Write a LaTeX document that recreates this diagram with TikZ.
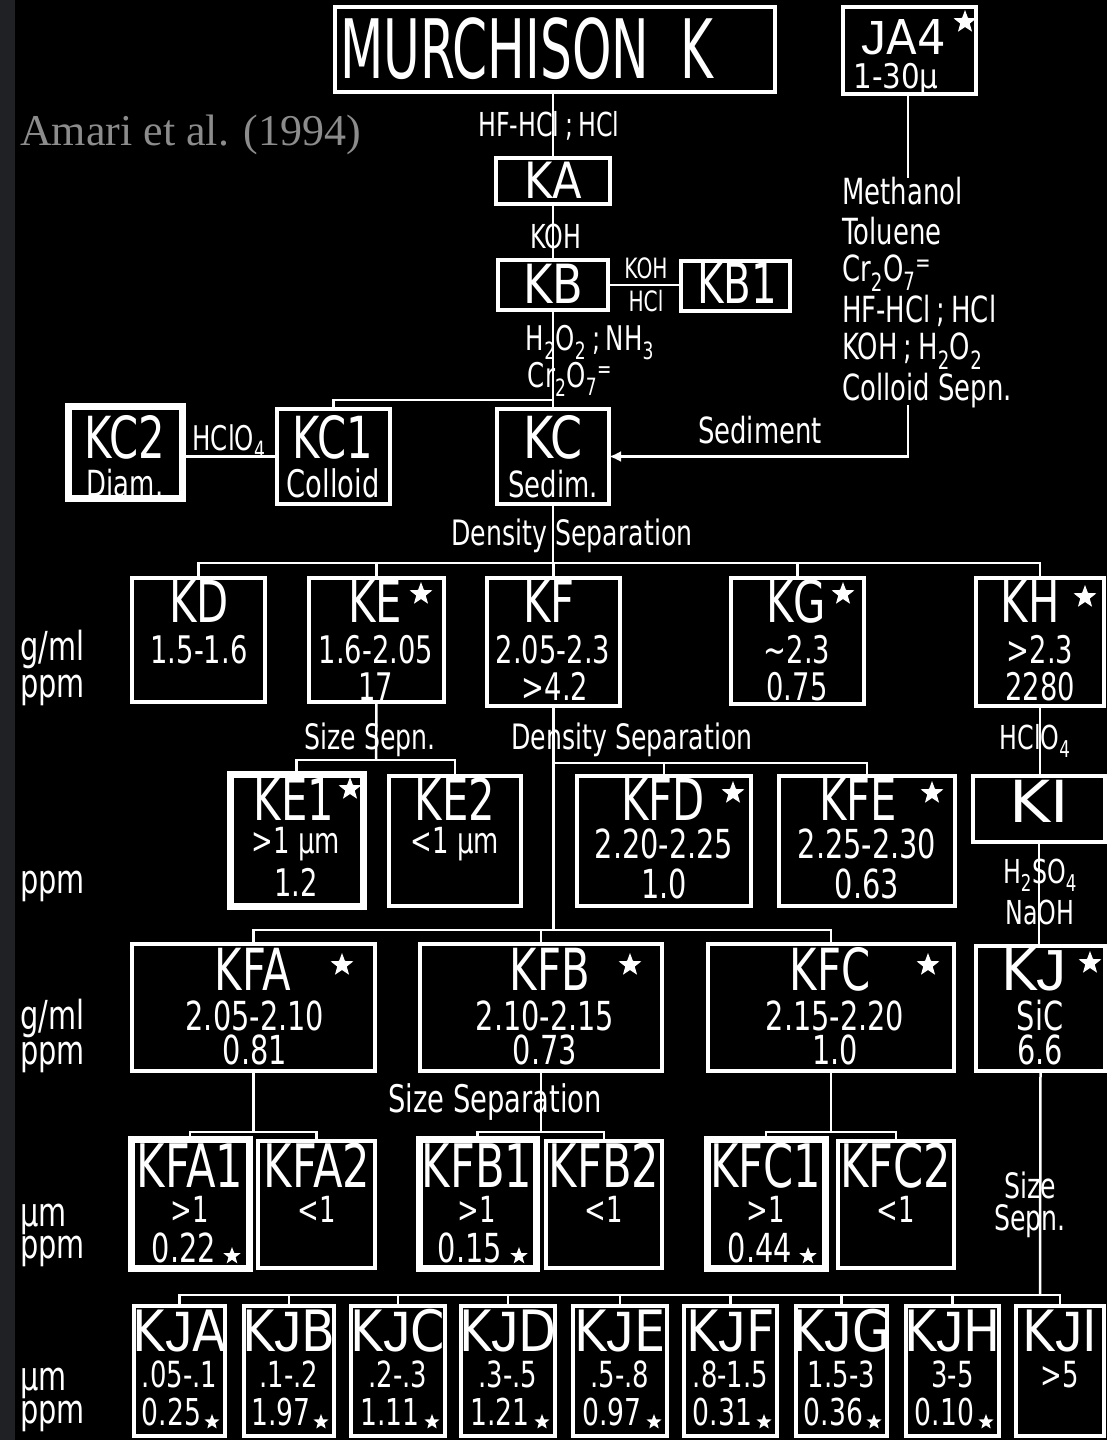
\documentclass[tikz,border=0pt]{standalone}
\usepackage{fontspec}
\usepackage{graphicx}
\setmainfont{DejaVu Sans}[FakeStretch=0.72]
\newfontfamily\amarifont{Liberation Serif}
\newfontfamily\jfont{Liberation Sans}[FakeStretch=0.8]
\usetikzlibrary{shapes.geometric,arrows.meta,calc}
\definecolor{stripgray}{HTML}{202124}
\definecolor{amarigray}{HTML}{8C8C8C}
\newcommand\fs[1]{\fontsize{#1}{#1}\selectfont}
\newcommand\JJ{{\jfont J}}
\newcommand\mkbox[6][]{\pgfmathsetmacro\bw{#5-#3}\pgfmathsetmacro\bh{#6-#4}%
  \node[bx,minimum width=\bw pt,minimum height=\bh pt,#1] (#2) at ({(#3+#5)/2},{(#4+#6)/2}) {};}
\newcommand\sbs[1]{\textsubscript{#1}}
\begin{document}
\begin{tikzpicture}[x=1pt,y=-1pt,
  bx/.style={draw=white,line width=4pt,rectangle,inner sep=0pt,outer sep=0pt},
  tb/.style={line width=7pt},
  ln/.style={draw=white,line width=2.5pt},
  tx/.style={text=white,inner sep=0pt,anchor=base},
  txl/.style={text=white,inner sep=0pt,anchor=base west},
  wstar/.style={star,star points=5,star point ratio=2.4,fill=white,draw=none,inner sep=0pt,minimum size=#1},
  wstar/.default=20pt]
\useasboundingbox (0,0) rectangle (1107,1440);
\fill[black] (0,0) rectangle (1107,1440);
\fill[stripgray] (0,0) rectangle (15,1440);

% ---------------- boxes ----------------
\mkbox{MK}{335}{7}{775}{92}
\mkbox{JA4}{843}{7}{976}{94}
\mkbox{KA}{496}{158}{610}{204}
\mkbox{KB}{498}{260}{608}{310}
\mkbox{KB1}{681}{261}{790}{311}
\mkbox[tb]{KC2}{68}{406}{182}{498}
\mkbox{KC1}{277}{409}{390}{504}
\mkbox{KC}{497}{409}{609}{504}
\mkbox{KD}{132}{578}{265}{702}
\mkbox{KE}{309}{578}{444}{702}
\mkbox{KF}{487}{578}{620}{706}
\mkbox{KG}{731}{578}{864}{704}
\mkbox{KH}{976}{578}{1104}{706}
\mkbox[tb]{KE1}{230}{774}{363}{906}
\mkbox{KE2}{389}{776}{521}{906}
\mkbox{KFD}{577}{776}{751}{906}
\mkbox{KFE}{779}{776}{955}{906}
\mkbox{KI}{973}{776}{1105}{842}
\mkbox{KFA}{132}{944}{375}{1071}
\mkbox{KFB}{420}{944}{662}{1071}
\mkbox{KFC}{708}{944}{954}{1071}
\mkbox{KJ}{976}{946}{1105}{1071}
\mkbox[tb]{KFA1}{131}{1139}{249}{1268}
\mkbox{KFA2}{258}{1141}{375}{1268}
\mkbox[tb]{KFB1}{419}{1139}{536}{1268}
\mkbox{KFB2}{546}{1141}{662}{1268}
\mkbox[tb]{KFC1}{707}{1139}{825}{1268}
\mkbox{KFC2}{838}{1141}{954}{1268}
\mkbox{KJA}{134}{1306}{225}{1436}
\mkbox{KJB}{244}{1306}{334}{1436}
\mkbox{KJC}{351}{1306}{445}{1436}
\mkbox{KJD}{461}{1306}{555}{1436}
\mkbox{KJE}{573}{1306}{667}{1436}
\mkbox{KJF}{684}{1306}{777}{1436}
\mkbox{KJG}{796}{1306}{887}{1436}
\mkbox{KJH}{906}{1306}{999}{1436}
\mkbox{KJI}{1016}{1306}{1104}{1436}

% ---------------- connectors ----------------
\coordinate (j1) at (553,400);
\coordinate (jaend) at (908,178);
\coordinate (sedtop) at (908,405);
\coordinate (d1) at (553,563);
\coordinate (e1) at (376,760);
\coordinate (f1) at (553.5,763);
\coordinate (f2) at (553.5,930);
\coordinate (ga) at (253.5,1132);
\coordinate (gb) at (541,1132);
\coordinate (gc) at (831,1132);
\coordinate (h1) at (1040,1295);

\draw[ln] (KA.north) -- (KA.north |- MK.south);
\draw[ln] (KA.south) -- (KB.north);
\draw[ln] (KB.east) -- (KB.east -| KB1.west);
\draw[ln] (KB.south) -- (KC.north);
\draw[ln] (KC1.north) |- (j1);
\draw[ln] (JA4.south -| jaend) -- (jaend);
\draw[ln,-{Latex[length=12pt,width=11pt]}] (sedtop) |- (KC.east);
\draw[ln] (KC1.west) -- (KC1.west -| KC2.east);
\draw[ln] (KC.south) -- (d1);
\draw[ln] (KD.north) |- (KH.north |- d1) -- (KH.north);
\draw[ln] (KE.north) -- (KE.north |- d1);
\draw[ln] (KF.north) -- (KF.north |- d1);
\draw[ln] (KG.north) -- (KG.north |- d1);
\draw[ln] (KE.south) -- (e1);
\draw[ln] (KE1.north) |- (KE2.north |- e1) -- (KE2.north);
\draw[ln] (KF.south) -- (f2);
\draw[ln] (f1) -| (KFE.north);
\draw[ln] (KFD.north) -- (KFD.north |- f1);
\draw[ln] (KFA.north) |- (KFC.north |- f2) -- (KFC.north);
\draw[ln] (KFB.north) -- (KFB.north |- f2);
\draw[ln] (KH.south) -- (KH.south |- KI.north);
\draw[ln] (KI.south) -- (KI.south |- KJ.north);
\draw[ln] (KFA.south) -- (ga);
\draw[ln] (KFA1.north) |- (KFA2.north |- ga) -- (KFA2.north);
\draw[ln] (KFB.south) -- (gb);
\draw[ln] (KFB1.north) |- (KFB2.north |- gb) -- (KFB2.north);
\draw[ln] (KFC.south) -- (gc);
\draw[ln] (KFC1.north) |- (KFC2.north |- gc) -- (KFC2.north);
\draw[ln] (KJ.south) -- (h1);
\draw[ln] (KJA.north) |- (KJI.north |- h1) -- (KJI.north);
\foreach \b in {KJB,KJC,KJD,KJE,KJF,KJG,KJH}{\draw[ln] (\b.north) -- (\b.north |- h1);}

% ---------------- texts ----------------
\node[anchor=base west,inner sep=0pt,text=amarigray,font=\amarifont\fs{44}] (amari) at (20,145) {Amari et al. (1994)};
\node[tx,font=\fs{82}] (t-MK) at (527,78) {\scalebox{0.85}[1]{MURCHISON\ \ K}};
\node[tx,font=\fs{48}] (t-JA4) at (904,54) {\scalebox{1.3}[1]{\JJ A4}};
\node[tx,font=\fs{34}] (t-JA4b) at (896,88) {\scalebox{1.2}[1]{1-30μ}};
\node[tx,font=\fs{33}] (l-hf) at (549,136) {HF-HCl\,;\,HCl};
\node[tx,font=\fs{50}] (t-KA) at (553,198) {\scalebox{1.2}[1]{KA}};
\node[tx,font=\fs{33}] (l-koh) at (556,248) {KOH};
\node[tx,font=\fs{54}] (t-KB) at (553,303) {\scalebox{1.15}[1]{KB}};
\node[tx,font=\fs{56}] (t-KB1) at (737,303) {KB1};
\node[tx,font=\fs{28}] (l-koh2) at (646,278) {KOH};
\node[tx,font=\fs{28}] (l-hcl2) at (646,311) {HCl};
\node[tx,font=\fs{34}] (l-h2o2) at (590,350) {H\sbs{2}O\sbs{2}\,;\,NH\sbs{3}};
\node[tx,font=\fs{34}] (l-cr) at (570,387) {Cr\sbs{2}O\sbs{7}\textsuperscript{=}};
\node[txl,font=\fs{36}] (r1) at (842,204) {Methanol};
\node[txl,font=\fs{36}] (r2) at (842,244) {Toluene};
\node[txl,font=\fs{36}] (r3) at (842,281) {Cr\sbs{2}O\sbs{7}\textsuperscript{=}};
\node[txl,font=\fs{36}] (r4) at (842,322) {HF-HCl\,;\,HCl};
\node[txl,font=\fs{36}] (r5) at (842,359) {KOH\,;\,H\sbs{2}O\sbs{2}};
\node[txl,font=\fs{36}] (r6) at (842,400) {Colloid Sepn.};

\node[tx,font=\fs{58}] (t-KC2) at (125,458) {KC2};
\node[tx,font=\fs{36}] (t-KC2b) at (125,496) {Diam.};
\node[tx,font=\fs{34}] (l-hclo4) at (229,450) {HClO\sbs{4}};
\node[tx,font=\fs{58}] (t-KC1) at (333,458) {KC1};
\node[tx,font=\fs{38}] (t-KC1b) at (333,497) {Colloid};
\node[tx,font=\fs{58}] (t-KC) at (553,458) {\scalebox{1.1}[1]{KC}};
\node[tx,font=\fs{36}] (t-KCb) at (553,497) {Sedim.};
\node[tx,font=\fs{36}] (l-sed) at (760,443) {Sediment};
\node[tx,font=\fs{35}] (l-dens1) at (572,545) {Density Separation};

\node[txl,font=\fs{40}] (u1) at (20,660) {g/ml};
\node[txl,font=\fs{40}] (u2) at (20,697) {ppm};
\node[tx,font=\fs{58}] (t-KD) at (199,622) {KD};
\node[tx,font=\fs{38}] (t-KDb) at (199,663) {1.5-1.6};
\node[tx,font=\fs{58}] (t-KE) at (375,622) {KE};
\node[tx,font=\fs{38}] (t-KEb) at (376,663) {1.6-2.05};
\node[tx,font=\fs{38}] (t-KEc) at (376,700) {17};
\node[tx,font=\fs{58}] (t-KF) at (549,622) {KF};
\node[tx,font=\fs{38}] (t-KFb) at (553,663) {2.05-2.3};
\node[tx,font=\fs{38}] (t-KFc) at (555,700) {>4.2};
\node[tx,font=\fs{58}] (t-KG) at (796,622) {KG};
\node[tx,font=\fs{38}] (t-KGb) at (797,663) {\textasciitilde2.3};
\node[tx,font=\fs{38}] (t-KGc) at (797,700) {0.75};
\node[tx,font=\fs{58}] (t-KH) at (1030,622) {KH};
\node[tx,font=\fs{38}] (t-KHb) at (1040,663) {>2.3};
\node[tx,font=\fs{38}] (t-KHc) at (1040,700) {2280};

\node[tx,font=\fs{35}] (l-size1) at (370,749) {Size Sepn.};
\node[tx,font=\fs{35}] (l-dens2) at (632,749) {Density Separation};
\node[tx,font=\fs{33}] (l-hclo4b) at (1035,749) {HClO\sbs{4}};
\node[txl,font=\fs{40}] (u3) at (20,893) {ppm};
\node[tx,font=\fs{58}] (t-KE1) at (294,820) {KE1};
\node[tx,font=\fs{36}] (t-KE1b) at (296,853) {>1 μm};
\node[tx,font=\fs{38}] (t-KE1c) at (296,896) {1.2};
\node[tx,font=\fs{58}] (t-KE2) at (455,820) {KE2};
\node[tx,font=\fs{36}] (t-KE2b) at (455,853) {<1 μm};
\node[tx,font=\fs{58}] (t-KFD) at (663,820) {KFD};
\node[tx,font=\fs{40}] (t-KFDb) at (664,858) {2.20-2.25};
\node[tx,font=\fs{40}] (t-KFDc) at (664,898) {1.0};
\node[tx,font=\fs{58}] (t-KFE) at (858,820) {KFE};
\node[tx,font=\fs{40}] (t-KFEb) at (867,858) {2.25-2.30};
\node[tx,font=\fs{40}] (t-KFEc) at (867,898) {0.63};
\node[tx,font=\fs{58}] (t-KI) at (1039,822) {\scalebox{1.5}[1]{KI}};
\node[tx,font=\fs{33}] (l-h2so4) at (1040,883) {H\sbs{2}SO\sbs{4}};
\node[tx,font=\fs{33}] (l-naoh) at (1040,924) {NaOH};

\node[txl,font=\fs{40}] (u4) at (20,1029) {g/ml};
\node[txl,font=\fs{40}] (u5) at (20,1064) {ppm};
\node[tx,font=\fs{58}] (t-KFA) at (253,990) {KFA};
\node[tx,font=\fs{40}] (t-KFAb) at (255,1030) {2.05-2.10};
\node[tx,font=\fs{40}] (t-KFAc) at (255,1064) {0.81};
\node[tx,font=\fs{58}] (t-KFB) at (550,990) {KFB};
\node[tx,font=\fs{40}] (t-KFBb) at (545,1030) {2.10-2.15};
\node[tx,font=\fs{40}] (t-KFBc) at (545,1064) {0.73};
\node[tx,font=\fs{58}] (t-KFC) at (830,990) {KFC};
\node[tx,font=\fs{40}] (t-KFCb) at (835,1030) {2.15-2.20};
\node[tx,font=\fs{40}] (t-KFCc) at (835,1064) {1.0};
\node[tx,font=\fs{58}] (t-KJ) at (1034,990) {\scalebox{1.3}[1]{K\JJ}};
\node[tx,font=\fs{40}] (t-KJb) at (1040,1030) {SiC};
\node[tx,font=\fs{40}] (t-KJc) at (1040,1064) {6.6};

\node[tx,font=\fs{38}] (l-size2) at (495,1112) {Size Separation};
\node[tx,font=\fs{35}] (l-size3) at (1030,1198) {Size};
\node[tx,font=\fs{35}] (l-sepn3) at (1030,1230) {Sepn.};
\node[txl,font=\fs{40}] (u6) at (20,1226) {μm};
\node[txl,font=\fs{40}] (u7) at (20,1258) {ppm};
\node[tx,font=\fs{60}] (t-KFA1) at (190,1187) {KFA1};
\node[tx,font=\fs{36}] (t-KFA1b) at (190,1222) {>1};
\node[tx,font=\fs{40}] (t-KFA1c) at (184,1262) {0.22};
\node[tx,font=\fs{60}] (t-KFA2) at (317,1187) {KFA2};
\node[tx,font=\fs{36}] (t-KFA2b) at (317,1222) {<1};
\node[tx,font=\fs{60}] (t-KFB1) at (477,1187) {KFB1};
\node[tx,font=\fs{36}] (t-KFB1b) at (477,1222) {>1};
\node[tx,font=\fs{40}] (t-KFB1c) at (470,1262) {0.15};
\node[tx,font=\fs{60}] (t-KFB2) at (604,1187) {KFB2};
\node[tx,font=\fs{36}] (t-KFB2b) at (604,1222) {<1};
\node[tx,font=\fs{60}] (t-KFC1) at (766,1187) {KFC1};
\node[tx,font=\fs{36}] (t-KFC1b) at (766,1222) {>1};
\node[tx,font=\fs{40}] (t-KFC1c) at (760,1262) {0.44};
\node[tx,font=\fs{60}] (t-KFC2) at (896,1187) {KFC2};
\node[tx,font=\fs{36}] (t-KFC2b) at (896,1222) {<1};

\node[txl,font=\fs{40}] (u8) at (20,1390) {μm};
\node[txl,font=\fs{40}] (u9) at (20,1423) {ppm};
\foreach \l/\r/\v in {A/.05-.1/0.25,B/.1-.2/1.97,C/.2-.3/1.11,D/.3-.5/1.21,E/.5-.8/0.97,F/.8-1.5/0.31,G/1.5-3/0.36,H/3-5/0.10,I/>5/}{
  \node[tx,font=\fs{57}] (t-KJ\l) at (KJ\l.north |- 0,1351) {\scalebox{1.2}[1]{K\JJ\l}};
  \node[tx,font=\fs{36}] (t-KJ\l b) at (KJ\l.north |- 0,1387) {\r};
  \node[tx,font=\fs{37},xshift=-8pt] (t-KJ\l c) at (KJ\l.north |- 0,1425) {\v};
}

% ---------------- stars ----------------
\node[wstar=24pt] (s-JA4) at (965,22) {};
\node[wstar=24pt] (s-KE) at (421,594) {};
\node[wstar=24pt] (s-KG) at (843,594) {};
\node[wstar=24pt] (s-KH) at (1085,597) {};
\node[wstar=24pt] (s-KE1) at (350,789) {};
\node[wstar=24pt] (s-KFD) at (733,793) {};
\node[wstar=24pt] (s-KFE) at (932,793) {};
\node[wstar=24pt] (s-KFA) at (342,965) {};
\node[wstar=24pt] (s-KFB) at (630,965) {};
\node[wstar=24pt] (s-KFC) at (928,965) {};
\node[wstar=24pt] (s-KJ) at (1090,963) {};
\node[wstar=18pt] (s-KFA1) at (232,1256) {};
\node[wstar=18pt] (s-KFB1) at (519,1256) {};
\node[wstar=18pt] (s-KFC1) at (808,1256) {};
\foreach \b in {KJA,KJB,KJC,KJD,KJE,KJF,KJG,KJH}{
  \node[wstar=16pt] (s-\b) at ($(\b.south east)+(-13,-14)$) {};
}
\end{tikzpicture}
\end{document}
